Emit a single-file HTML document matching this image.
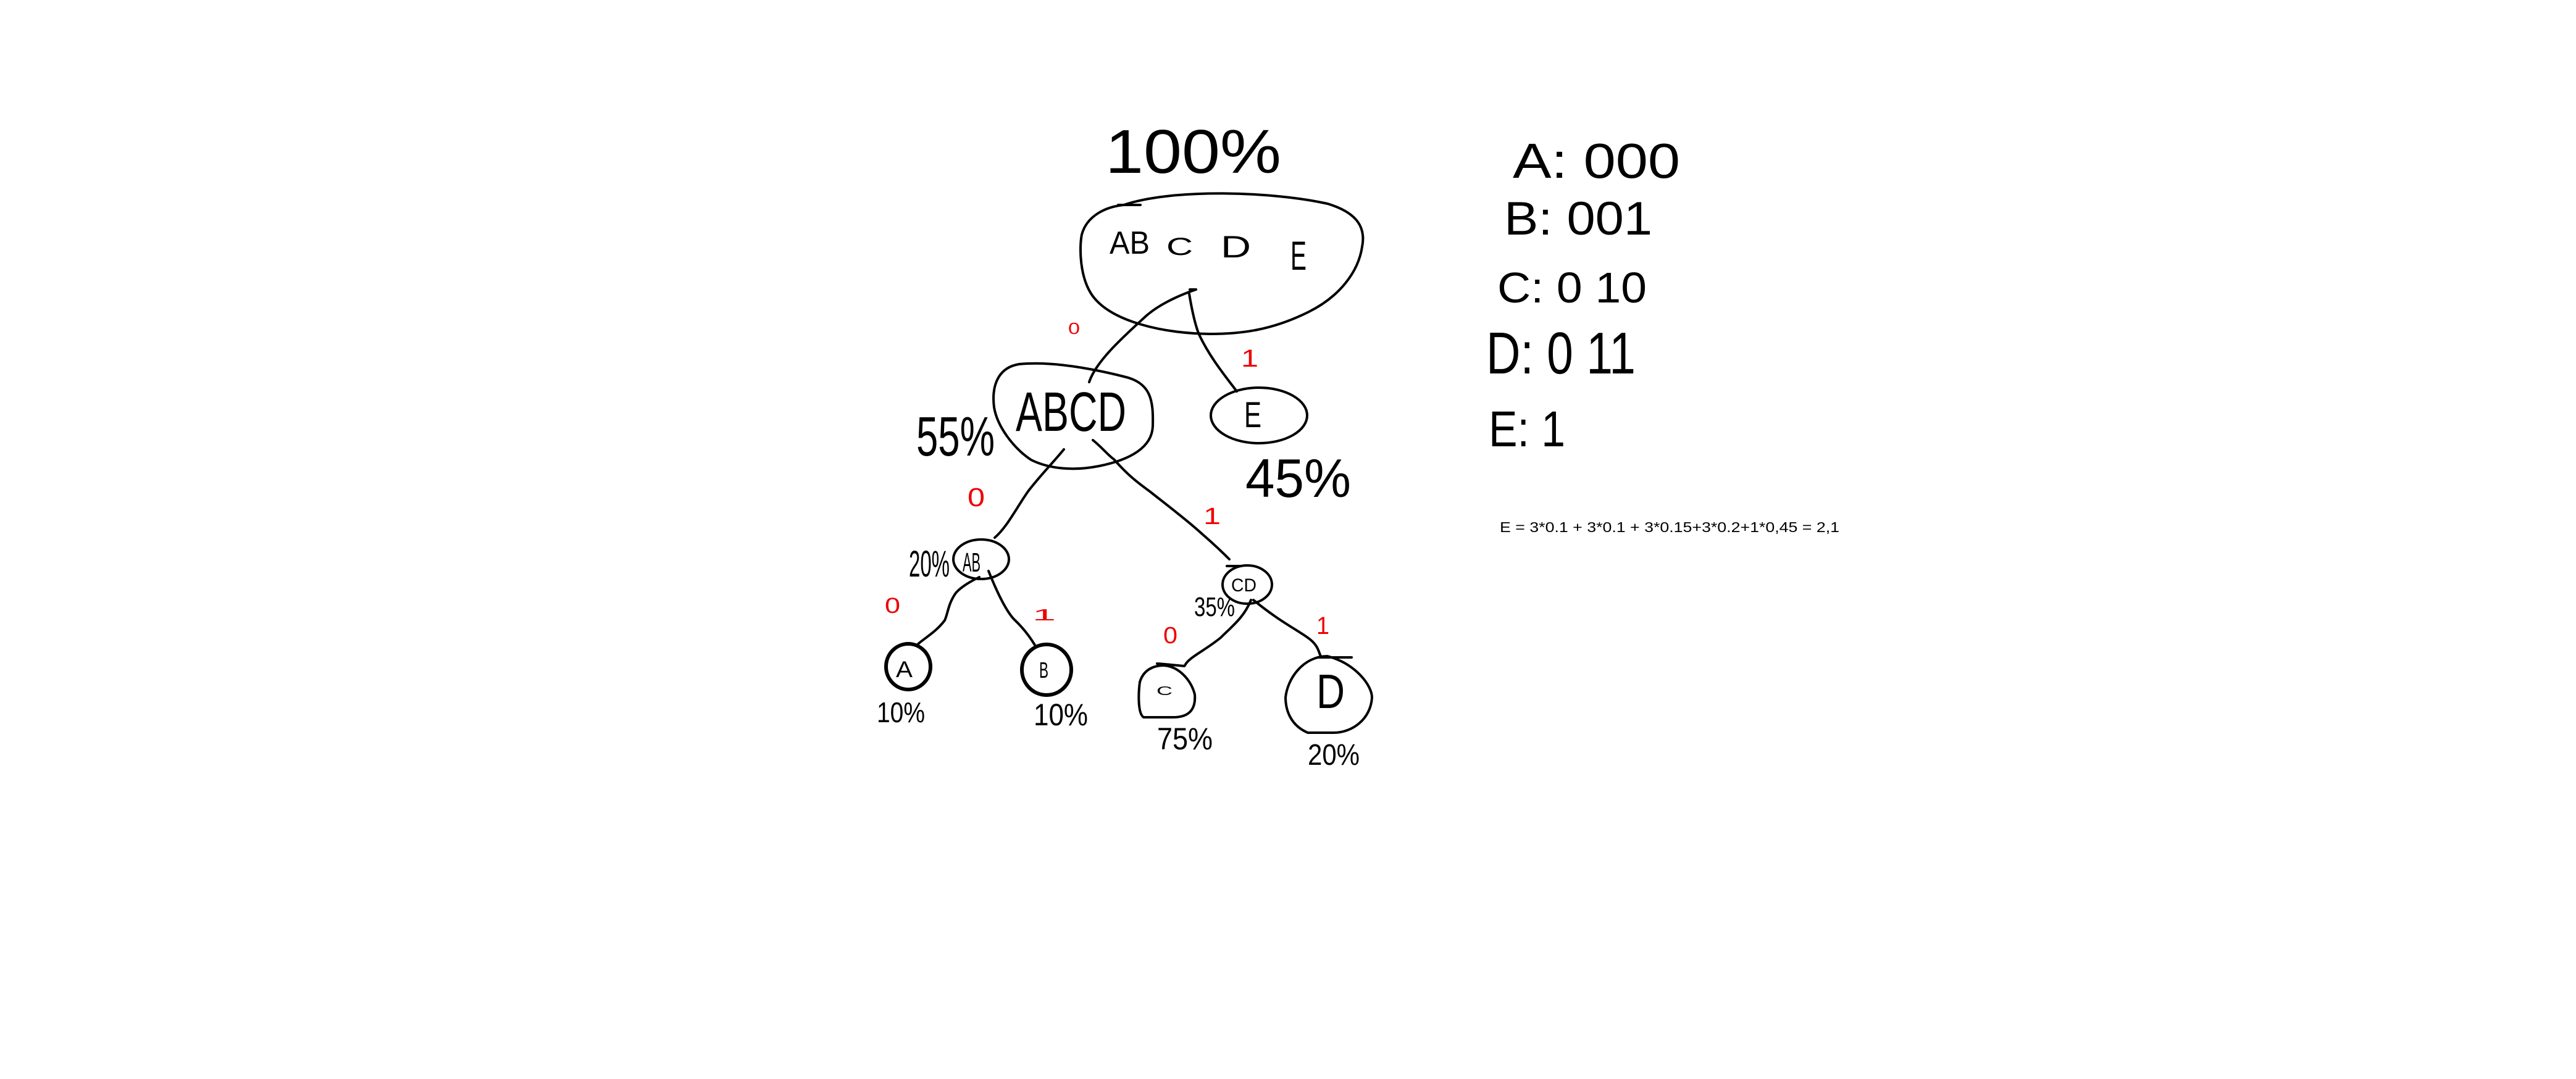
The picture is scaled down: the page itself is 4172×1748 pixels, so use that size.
<!DOCTYPE html>
<html><head><meta charset="utf-8"><style>
html,body{margin:0;padding:0;background:#fff;}
svg{display:block;}
text{font-family:"Liberation Sans",sans-serif;}
</style></head><body>
<svg width="4172" height="1748" viewBox="0 0 4172 1748" xmlns="http://www.w3.org/2000/svg">
<rect width="4172" height="1748" fill="#fff"/>
<g fill="none" stroke="#000" stroke-width="4" stroke-linecap="round" stroke-linejoin="round">
<!-- root -->
<path d="M1820 332 C1900 305 2060 310 2150 330 C2200 345 2212 370 2206 400 C2200 440 2170 480 2120 505 C2060 535 2010 541 1960 541 C1880 540 1800 520 1770 480 C1748 450 1748 400 1752 380 C1760 350 1790 335 1820 332 Z"/>
<path d="M1811 332 L1847 332"/>
<!-- ABCD -->
<path d="M1650 590 C1700 585 1760 595 1820 610 C1865 620 1868 650 1867 690 C1866 725 1830 745 1780 755 C1740 763 1700 760 1670 745 C1640 725 1615 690 1610 660 C1605 620 1620 595 1650 590 Z"/>
<ellipse cx="2039" cy="673" rx="78" ry="45"/>
<ellipse cx="1589" cy="906" rx="45" ry="32"/>
<ellipse cx="2020" cy="947" rx="40" ry="31"/>
<ellipse cx="1471" cy="1080" rx="36" ry="37" stroke-width="6"/>
<ellipse cx="1695" cy="1085" rx="40" ry="41" stroke-width="6"/>
<path d="M1885 1078 C1912 1080 1930 1105 1935 1125 C1937 1150 1925 1162 1900 1162 L1852 1162 C1842 1155 1844 1120 1846 1105 C1852 1085 1868 1078 1885 1078 Z"/>
<path d="M2150 1063 C2195 1075 2222 1110 2222 1130 C2220 1165 2190 1187 2160 1187 L2118 1187 C2090 1175 2082 1150 2082 1130 C2085 1100 2110 1063 2150 1063 Z"/>
<!-- connectors -->
<path d="M1927 469 L1937 469"/>
<path d="M1937 469 C1905 480 1875 495 1856 512 C1820 545 1775 585 1764 619"/>
<path d="M1926 476 C1930 500 1935 525 1942 542 C1960 580 1985 610 2003 634"/>
<path d="M1723 728 C1705 750 1685 770 1665 796 C1645 825 1630 855 1611 871"/>
<path d="M1770 713 C1785 725 1795 738 1804 744 C1825 768 1840 780 1862 796 C1900 826 1925 845 1948 866 C1970 885 1985 900 1991 906"/>
<path d="M1987 917 L2010 917"/>
<path d="M1586 935 C1565 945 1552 955 1547 962 C1535 980 1535 995 1530 1005 C1515 1025 1495 1035 1485 1045"/>
<path d="M1601 925 C1615 960 1630 990 1642 1003 C1660 1020 1670 1035 1676 1045"/>
<path d="M2026 972 C2015 1000 1995 1015 1977 1033 C1950 1055 1925 1065 1919 1078"/>
<path d="M1874 1075 C1890 1076 1905 1078 1918 1079"/>
<path d="M2030 972 C2070 1005 2100 1020 2118 1033 C2135 1045 2135 1055 2139 1063"/>
<path d="M2134 1065 L2189 1065"/>
</g>
<!-- node labels -->
<g fill="#000">
<text x="1797" y="411" font-size="52" textLength="65" lengthAdjust="spacingAndGlyphs">AB</text>
<text x="1889" y="413" font-size="40" textLength="43" lengthAdjust="spacingAndGlyphs">C</text>
<text x="1977" y="417" font-size="50" textLength="49" lengthAdjust="spacingAndGlyphs">D</text>
<text x="2090" y="437" font-size="66" textLength="26" lengthAdjust="spacingAndGlyphs">E</text>
<text x="1645" y="698" font-size="90" textLength="179" lengthAdjust="spacingAndGlyphs">ABCD</text>
<text x="2015" y="692" font-size="58" textLength="28" lengthAdjust="spacingAndGlyphs">E</text>
<text x="1559" y="926" font-size="44" textLength="29" lengthAdjust="spacingAndGlyphs">AB</text>
<text x="1994" y="958" font-size="30" textLength="41" lengthAdjust="spacingAndGlyphs">CD</text>
<text x="1451" y="1097" font-size="37" textLength="27" lengthAdjust="spacingAndGlyphs">A</text>
<text x="1683" y="1098" font-size="36" textLength="15" lengthAdjust="spacingAndGlyphs">B</text>
<text x="1873" y="1126" font-size="20" textLength="26" lengthAdjust="spacingAndGlyphs">C</text>
<text x="2132" y="1147" font-size="78" textLength="46" lengthAdjust="spacingAndGlyphs">D</text>
</g>
<!-- percents -->
<g fill="#000">
<text x="1790" y="280" font-size="100" textLength="285" lengthAdjust="spacingAndGlyphs">100%</text>
<text x="1484" y="738" font-size="90" textLength="127" lengthAdjust="spacingAndGlyphs">55%</text>
<text x="2017" y="805" font-size="88" textLength="171" lengthAdjust="spacingAndGlyphs">45%</text>
<text x="1472" y="934" font-size="60" textLength="66" lengthAdjust="spacingAndGlyphs">20%</text>
<text x="1934" y="998" font-size="44" textLength="66" lengthAdjust="spacingAndGlyphs">35%</text>
<text x="1420" y="1170" font-size="46" textLength="78" lengthAdjust="spacingAndGlyphs">10%</text>
<text x="1674" y="1175" font-size="50" textLength="88" lengthAdjust="spacingAndGlyphs">10%</text>
<text x="1874" y="1214" font-size="50" textLength="90" lengthAdjust="spacingAndGlyphs">75%</text>
<text x="2118" y="1239" font-size="48" textLength="84" lengthAdjust="spacingAndGlyphs">20%</text>
</g>
<!-- red bit labels -->
<g fill="#e00">
<text x="1730" y="541" font-size="26" textLength="19" lengthAdjust="spacingAndGlyphs">0</text>
<text x="2010" y="594" font-size="40" textLength="28" lengthAdjust="spacingAndGlyphs">1</text>
<text x="1567" y="820" font-size="43" textLength="28" lengthAdjust="spacingAndGlyphs">0</text>
<text x="1949" y="849" font-size="38" textLength="28" lengthAdjust="spacingAndGlyphs">1</text>
<text x="1433" y="993" font-size="35" textLength="25" lengthAdjust="spacingAndGlyphs">0</text>
<text x="1672" y="1005" font-size="26" textLength="38" lengthAdjust="spacingAndGlyphs">1</text>
<text x="1884" y="1042" font-size="38" textLength="23" lengthAdjust="spacingAndGlyphs">0</text>
<text x="2132" y="1027" font-size="40" textLength="21" lengthAdjust="spacingAndGlyphs">1</text>
</g>
<!-- code list -->
<g fill="#000">
<text x="2450" y="288" font-size="80" textLength="271" lengthAdjust="spacingAndGlyphs">A: 000</text>
<text x="2436" y="380" font-size="76" textLength="240" lengthAdjust="spacingAndGlyphs">B: 001</text>
<text x="2425" y="490" font-size="70" textLength="242" lengthAdjust="spacingAndGlyphs">C: 0 10</text>
<text x="2407" y="605" font-size="96" textLength="242" lengthAdjust="spacingAndGlyphs">D: 0 11</text>
<text x="2411" y="723" font-size="82" textLength="124" lengthAdjust="spacingAndGlyphs">E: 1</text>
<text x="2429" y="862" font-size="23" textLength="550" lengthAdjust="spacingAndGlyphs">E = 3*0.1 + 3*0.1 + 3*0.15+3*0.2+1*0,45 = 2,1</text>
</g>
</svg>
</body></html>
